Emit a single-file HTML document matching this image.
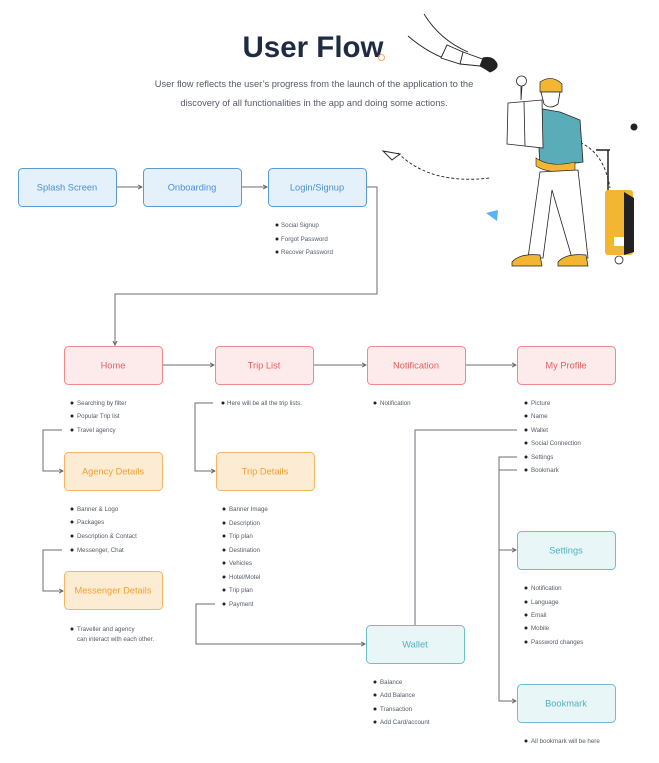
<!DOCTYPE html>
<html><head><meta charset="utf-8"><style>
html,body{margin:0;padding:0;background:#fff;}
svg{display:block;font-family:"Liberation Sans",Arial,sans-serif;}
.bt{font-size:6.2px;fill:#555a66;}
.bx{font-size:9.3px;text-anchor:middle;}
</style></head><body>
<svg width="659" height="763" viewBox="0 0 659 763" xmlns="http://www.w3.org/2000/svg">
<defs><marker id="a" markerWidth="5" markerHeight="5" refX="4" refY="2.5" orient="auto"><path d="M0,0.5 L4,2.5 L0,4.5" fill="none" stroke="#666" stroke-width="1"/></marker></defs>
<text x="313" y="57" font-size="29.5" font-weight="bold" fill="#1f2a44" text-anchor="middle">User Flow</text>
<circle cx="381.5" cy="57.5" r="3" fill="none" stroke="#f5a56a" stroke-width="1"/>
<text x="314" y="87" font-size="9.3" fill="#555a66" text-anchor="middle">User flow reflects the user’s progress from the launch of the application to the</text>
<text x="314" y="106" font-size="9.3" fill="#555a66" text-anchor="middle">discovery of all functionalities in the app and doing some actions.</text>

<!-- illustration -->
<g fill="none" stroke="#222" stroke-width="0.9">
<path d="M424,14 Q440,40 468,52"/><path d="M408,36 Q430,55 455,62"/>
<path d="M447,45 L463,52 L460,64 L441,58 Z" fill="#fff"/>
<path d="M463,52 L485,60 L480,66 L460,64"/>
<path d="M483,58 Q492,56 496,62 Q500,68 490,72 Q484,68 480,66 Z" fill="#222"/>
<path d="M398,153 Q430,185 490,178" stroke-dasharray="3,2"/>
<path d="M536,140 Q600,128 610,188" stroke-dasharray="3,2"/>
<path d="M383,151 L400,154 L392,160 Z" fill="#fff"/>
</g>
<circle cx="634" cy="127" r="3.5" fill="#222"/>
<path d="M486,213 L498,210 L497,221 Z" fill="#5ab3f0"/>
<path d="M521,86 a5,5 0 1 1 1,0 L521,100 Z" fill="#fff" stroke="#222" stroke-width="0.8"/>
<path d="M537,108 L560,112 L580,120 L583,162 L540,168 Z" fill="#5aadb8" stroke="#222" stroke-width="0.8"/>
<path d="M508,103 L542,100 L543,148 L507,144 Z" fill="#fff" stroke="#222" stroke-width="0.8"/>
<path d="M524,102 L525,146" stroke="#222" stroke-width="0.8"/>
<path d="M540,82 Q552,74 562,84 L562,92 L540,92 Z" fill="#f2b632" stroke="#222" stroke-width="0.7"/>
<path d="M541,92 L560,92 L558,104 Q550,110 544,104 Z" fill="#fff" stroke="#222" stroke-width="0.8"/>
<path d="M536,158 Q550,168 575,162 L575,170 Q550,175 536,166 Z" fill="#f2b632" stroke="#222" stroke-width="0.6"/>
<path d="M540,172 L528,258 L543,258 L552,190 L572,258 L588,258 L578,170 Z" fill="#fff" stroke="#222" stroke-width="0.8"/>
<path d="M512,262 Q520,253 540,255 L542,266 L512,266 Z" fill="#f2b632" stroke="#222" stroke-width="0.7"/>
<path d="M558,262 Q566,253 586,255 L588,266 L558,266 Z" fill="#f2b632" stroke="#222" stroke-width="0.7"/>
<path d="M596,150 L610,150 M608,150 L608,195" stroke="#222" stroke-width="1.5" fill="none"/>
<rect x="605" y="190" width="28" height="65" rx="3" fill="#f2b632"/>
<path d="M624,192 L634,198 L634,252 L624,255 Z" fill="#222"/>
<rect x="614" y="237" width="10" height="9" fill="#fff"/>
<circle cx="619" cy="260" r="4" fill="#fff" stroke="#222" stroke-width="0.8"/>

<!-- connectors -->
<g fill="none" stroke="#6b6e78" stroke-width="1">
<path d="M116,187 H142" marker-end="url(#a)"/>
<path d="M241,187 H267" marker-end="url(#a)"/>
<path d="M366,187 H377 V294 H115 V345" marker-end="url(#a)"/>
<path d="M162,365 H214" marker-end="url(#a)"/>
<path d="M313,365 H366" marker-end="url(#a)"/>
<path d="M465,365 H516" marker-end="url(#a)"/>
<path d="M62,430 H43 V471 H63" marker-end="url(#a)"/>
<path d="M62,550 H43 V591 H63" marker-end="url(#a)"/>
<path d="M213,403 H195 V471 H215" marker-end="url(#a)"/>
<path d="M215,604 H196 V644 H365" marker-end="url(#a)"/>
<path d="M517,430 H415 V625"/>
<path d="M517,457 H499 V701 H516" marker-end="url(#a)"/>
<path d="M499,470 H517"/>
<path d="M499,550 H516" marker-end="url(#a)"/>
</g>

<g stroke-width="1">
<rect x="18.5" y="168.5" width="98" height="38" rx="4" fill="#e4f1fa" stroke="#5b9bd5"/>
<rect x="143.5" y="168.5" width="98" height="38" rx="4" fill="#e4f1fa" stroke="#5b9bd5"/>
<rect x="268.5" y="168.5" width="98" height="38" rx="4" fill="#e4f1fa" stroke="#5b9bd5"/>
<rect x="64.5" y="346.5" width="98" height="38" rx="4" fill="#fdeaea" stroke="#f08a8a"/>
<rect x="215.5" y="346.5" width="98" height="38" rx="4" fill="#fdeaea" stroke="#f08a8a"/>
<rect x="367.5" y="346.5" width="98" height="38" rx="4" fill="#fdeaea" stroke="#f08a8a"/>
<rect x="517.5" y="346.5" width="98" height="38" rx="4" fill="#fdeaea" stroke="#f08a8a"/>
<rect x="64.5" y="452.5" width="98" height="38" rx="4" fill="#fdecd4" stroke="#f5b562"/>
<rect x="216.5" y="452.5" width="98" height="38" rx="4" fill="#fdecd4" stroke="#f5b562"/>
<rect x="64.5" y="571.5" width="98" height="38" rx="4" fill="#fdecd4" stroke="#f5b562"/>
<rect x="517.5" y="531.5" width="98" height="38" rx="4" fill="#e9f6f7" stroke="#6cc0cc"/>
<rect x="366.5" y="625.5" width="98" height="38" rx="4" fill="#e9f6f7" stroke="#6cc0cc"/>
<rect x="517.5" y="684.5" width="98" height="38" rx="4" fill="#e9f6f7" stroke="#6cc0cc"/>
</g>
<g class="bx">
<text x="67" y="190.5" fill="#4a8fd0">Splash Screen</text>
<text x="192" y="190.5" fill="#4a8fd0">Onboarding</text>
<text x="317" y="190.5" fill="#4a8fd0">Login/Signup</text>
<text x="113" y="368.5" fill="#ea5f5f">Home</text>
<text x="264" y="368.5" fill="#ea5f5f">Trip List</text>
<text x="416" y="368.5" fill="#ea5f5f">Notification</text>
<text x="566" y="368.5" fill="#ea5f5f">My Profile</text>
<text x="113" y="474.5" fill="#f0a030">Agency Details</text>
<text x="265" y="474.5" fill="#f0a030">Trip Details</text>
<text x="113" y="593.5" fill="#f0a030">Messenger Details</text>
<text x="566" y="553.5" fill="#4fb0be">Settings</text>
<text x="415" y="647.5" fill="#4fb0be">Wallet</text>
<text x="566" y="706.5" fill="#4fb0be">Bookmark</text>
</g>

<g fill="#222">
<circle cx="277" cy="225" r="1.5"/><circle cx="277" cy="239" r="1.5"/><circle cx="277" cy="252" r="1.5"/>
<circle cx="72" cy="403" r="1.5"/><circle cx="72" cy="416" r="1.5"/><circle cx="72" cy="430" r="1.5"/>
<circle cx="72" cy="509" r="1.5"/><circle cx="72" cy="522" r="1.5"/><circle cx="72" cy="536" r="1.5"/><circle cx="72" cy="550" r="1.5"/>
<circle cx="72" cy="629" r="1.5"/>
<circle cx="223" cy="403" r="1.5"/>
<circle cx="224" cy="509" r="1.5"/><circle cx="224" cy="523" r="1.5"/><circle cx="224" cy="536" r="1.5"/><circle cx="224" cy="550" r="1.5"/><circle cx="224" cy="563" r="1.5"/><circle cx="224" cy="577" r="1.5"/><circle cx="224" cy="590" r="1.5"/><circle cx="224" cy="604" r="1.5"/>
<circle cx="375" cy="403" r="1.5"/>
<circle cx="526" cy="403" r="1.5"/><circle cx="526" cy="416" r="1.5"/><circle cx="526" cy="430" r="1.5"/><circle cx="526" cy="443" r="1.5"/><circle cx="526" cy="457" r="1.5"/><circle cx="526" cy="470" r="1.5"/>
<circle cx="526" cy="588" r="1.5"/><circle cx="526" cy="602" r="1.5"/><circle cx="526" cy="615" r="1.5"/><circle cx="526" cy="628" r="1.5"/><circle cx="526" cy="642" r="1.5"/>
<circle cx="375" cy="682" r="1.5"/><circle cx="375" cy="695" r="1.5"/><circle cx="375" cy="709" r="1.5"/><circle cx="375" cy="722" r="1.5"/>
<circle cx="526" cy="741" r="1.5"/>
</g>
<g class="bt">
<text x="281" y="227">Social Signup</text><text x="281" y="241">Forgot Password</text><text x="281" y="254">Recover Password</text>
<text x="77" y="405">Searching by filter</text><text x="77" y="418">Popular Trip list</text><text x="77" y="432">Travel agency</text>
<text x="77" y="511">Banner &amp; Logo</text><text x="77" y="524">Packages</text><text x="77" y="538">Description &amp; Contact</text><text x="77" y="552">Messenger, Chat</text>
<text x="77" y="631">Traveller and agency</text><text x="77" y="641">can interact with each other.</text>
<text x="227" y="405">Here will be all the trip lists.</text>
<text x="229" y="511">Banner Image</text><text x="229" y="525">Description</text><text x="229" y="538">Trip plan</text><text x="229" y="552">Destination</text><text x="229" y="565">Vehicles</text><text x="229" y="579">Hotel/Motel</text><text x="229" y="592">Trip plan</text><text x="229" y="606">Payment</text>
<text x="380" y="405">Notification</text>
<text x="531" y="405">Picture</text><text x="531" y="418">Name</text><text x="531" y="432">Wallet</text><text x="531" y="445">Social Connection</text><text x="531" y="459">Settings</text><text x="531" y="472">Bookmark</text>
<text x="531" y="590">Notification</text><text x="531" y="604">Language</text><text x="531" y="617">Email</text><text x="531" y="630">Mobile</text><text x="531" y="644">Password changes</text>
<text x="380" y="684">Balance</text><text x="380" y="697">Add Balance</text><text x="380" y="711">Transaction</text><text x="380" y="724">Add Card/account</text>
<text x="531" y="743">All bookmark will be here</text>
</g>
</svg>
</body></html>
